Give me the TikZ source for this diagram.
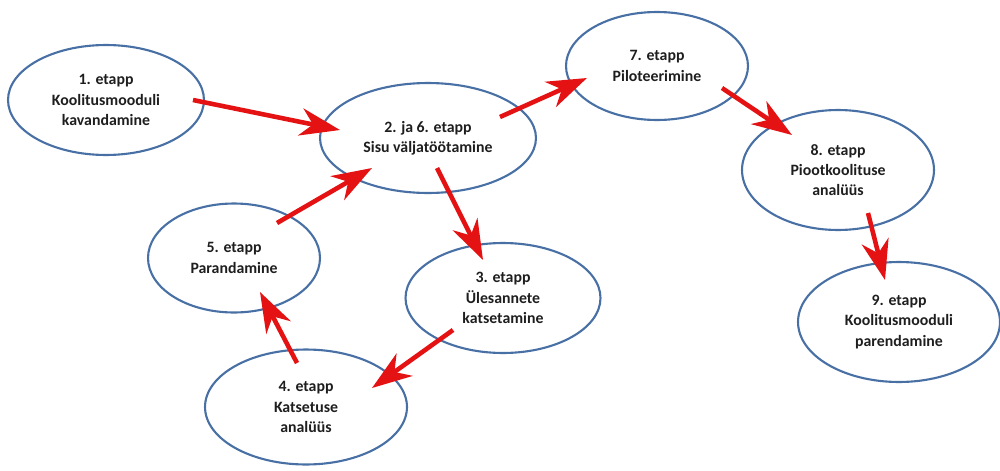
\documentclass[tikz,border=0pt]{standalone}
\usepackage{fontspec}
\setmainfont{Carlito}
\usetikzlibrary{shapes.geometric,arrows.meta,calc}
\definecolor{etappblue}{RGB}{72,112,165}
\definecolor{flowred}{RGB}{228,18,18}
\definecolor{etapptext}{RGB}{30,30,30}

\tikzset{
  etapp/.style 2 args={ellipse, draw=etappblue, line width=1.2pt, inner sep=0pt,
    minimum width=#1, minimum height=#2, align=center, text=etapptext,
    font=\bfseries\fontsize{9}{11.5}\selectfont},
  flow/.style={flowred, line width=2.6pt,
    -{Stealth[length=0.8cm,width=0.55cm,inset=0.25cm]}}
}

\begin{document}
\begin{tikzpicture}[x=0.02cm,y=-0.02cm]
    \useasboundingbox (0,0) rectangle (1000,470);

    % Etapid
    \node[etapp={3.92cm}{2.2cm}] (n1) at (106,100) {1. etapp\\Koolitusmooduli\\kavandamine};
    \node[etapp={4.32cm}{2.2cm}] (n2) at (428,138) {2. ja 6. etapp\\Sisu väljatöötamine};
    \node[etapp={3.9cm}{2.2cm}] (n3) at (503,298) {3. etapp\\Ülesannete\\katsetamine};
    \node[etapp={4.04cm}{2.3cm}] (n4) at (306,407) {4. etapp\\Katsetuse\\analüüs};
    \node[etapp={3.44cm}{2.18cm}] (n5) at (234,258) {5. etapp\\Parandamine};
    \node[etapp={3.64cm}{2.16cm}] (n7) at (657,66) {7. etapp\\Piloteerimine};
    \node[etapp={3.84cm}{2.4cm}] (n8) at (838,170) {8. etapp\\Piootkoolituse\\analüüs};
    \node[etapp={4.04cm}{2.4cm}] (n9) at (899,322) {9. etapp\\Koolitusmooduli\\parendamine};

    % Nooled
    \draw[flow] ($(n1)+(87,0)$) -- ($(n2)+(-88,-8)$);
    \draw[flow] ($(n2)+(72,-21)$) -- ($(n7)+(-70,12)$);
    \draw[flow] ($(n7)+(65,22)$) -- ($(n8)+(-46,-35)$);
    \draw[flow] ($(n8)+(30,43)$) -- ($(n9)+(-14,-42)$);
    \draw[flow] ($(n2)+(9,30)$) -- ($(n3)+(-20,-38)$);
    \draw[flow] ($(n3)+(-50,32)$) -- ($(n4)+(66,-19)$);
    \draw[flow] ($(n4)+(-9,-44)$) -- ($(n5)+(26,34)$);
    \draw[flow] ($(n5)+(43,-35)$) -- ($(n2)+(-56,30)$);
\end{tikzpicture}
\end{document}
